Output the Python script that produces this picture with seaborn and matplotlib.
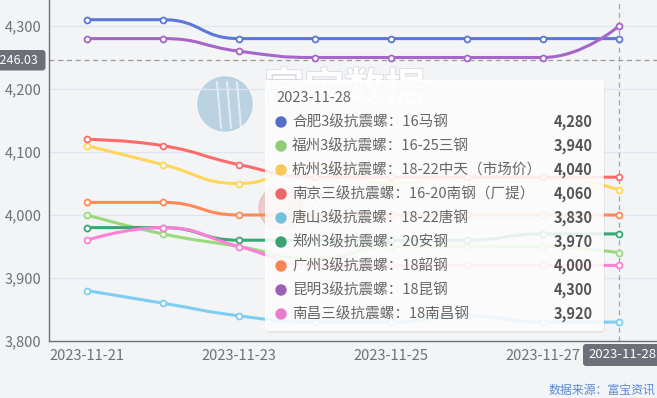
import numpy as np
import matplotlib
matplotlib.use('Agg')
import matplotlib.pyplot as plt
import seaborn as sns
from matplotlib.path import Path
from matplotlib.patches import PathPatch, FancyBboxPatch, Circle
import matplotlib.patheffects as pe

# data
dates = ['2023-11-21', '2023-11-22', '2023-11-23', '2023-11-24',
         '2023-11-25', '2023-11-26', '2023-11-27', '2023-11-28']
names = ['合肥3级抗震螺：16马钢', '福州3级抗震螺：16-25三钢',
         '杭州3级抗震螺：18-22中天（市场价）', '南京三级抗震螺：16-20南钢（厂提）',
         '唐山3级抗震螺：18-22唐钢', '郑州3级抗震螺：20安钢',
         '广州3级抗震螺：18韶钢', '昆明3级抗震螺：18昆钢', '南昌三级抗震螺：18南昌钢']
hefei = [4310, 4310, 4280, 4280, 4280, 4280, 4280, 4280]
fuzhou = [4000, 3970, 3950, 3930, 3950, 3950, 3950, 3940]
hangzhou = [4110, 4080, 4050, 4080, 4050, 4060, 4060, 4040]
nanjing = [4120, 4110, 4080, 4060, 4060, 4060, 4060, 4060]
tangshan = [3880, 3860, 3840, 3830, 3830, 3840, 3830, 3830]
zhengzhou = [3980, 3980, 3960, 3960, 3960, 3960, 3970, 3970]
guangzhou = [4020, 4020, 4000, 4000, 4000, 4000, 4000, 4000]
kunming = [4280, 4280, 4260, 4250, 4250, 4250, 4250, 4300]
nanchang = [3960, 3980, 3950, 3920, 3920, 3920, 3920, 3920]
series = [hefei, fuzhou, hangzhou, nanjing, tangshan, zhengzhou, guangzhou, kunming, nanchang]
yticks = [3800, 3900, 4000, 4100, 4200, 4300]
pointer_y = 4246.03

colors = ['#5470c6', '#91cc75', '#fac858', '#ee6666', '#73c0de',
          '#3ba272', '#fc8452', '#9a60b4', '#ea7ccc']
line_colors = ['#5b78d8', '#9ad97c', '#ffd65a', '#ff6b6b', '#7ccff0',
               '#3aa774', '#ff8a55', '#a665c8', '#ff80d8']
bg = '#f3f4f6'
axis_col = '#6e7079'

W, H = 657, 398
px_x = 76.5           # pixels per category
px_y = 0.63           # pixels per unit


def smooth_path(xs, ys, smooth=0.5):
    # echarts style bezier smoothing, worked out in pixel space
    pts = [(x * px_x, y * px_y) for x, y in zip(xs, ys)]
    verts = [pts[0]]
    codes = [Path.MOVETO]
    cp0 = pts[0]
    n = len(pts)
    for i in range(1, n):
        x, y = pts[i]
        px, py = pts[i - 1]
        if i == n - 1:
            cp1 = (x, y)
            ncp = None
        else:
            nx, ny = pts[i + 1]
            vx, vy = nx - px, ny - py
            lp = np.hypot(x - px, y - py)
            ln = np.hypot(nx - x, ny - y)
            r = ln / (ln + lp)
            ncx = np.clip(x + vx * smooth * r, min(nx, x), max(nx, x))
            ncy = np.clip(y + vy * smooth * r, min(ny, y), max(ny, y))
            vx, vy = ncx - x, ncy - y
            c1x = np.clip(x - vx * lp / ln, min(px, x), max(px, x))
            c1y = np.clip(y - vy * lp / ln, min(py, y), max(py, y))
            vx, vy = x - c1x, y - c1y
            ncp = (x + vx * ln / lp, y + vy * ln / lp)
            cp1 = (c1x, c1y)
        verts += [cp0, cp1, (x, y)]
        codes += [Path.CURVE4] * 3
        cp0 = ncp
    verts = [(vx_ / px_x, vy_ / px_y) for vx_, vy_ in verts]
    return Path(verts, codes)


sns.set_theme(style='white')
plt.rcParams['font.family'] = ['Noto Sans CJK SC', 'DejaVu Sans']

fig = plt.figure(figsize=(W / 100, H / 100), dpi=100, facecolor=bg)

# watermark layer (under the plot)
wm = fig.add_axes([0, 0, 1, 1], zorder=0)
wm.set_xlim(0, W)
wm.set_ylim(H, 0)
wm.axis('off')
wm.patch.set_alpha(0)
wm.add_patch(Circle((225, 104), 27, color='#b4cfe0', alpha=0.9))
for dx in (-8, 2, 12):
    wm.plot([225 + dx, 225 + dx + 4], [82, 128], color='white', lw=1.5, alpha=0.6)
wm.text(264, 90, '富宝数据', fontsize=29, fontweight='bold', color='white',
        va='center', ha='left',
        path_effects=[pe.withStroke(linewidth=1.2, foreground='#d6d9df')])
wm.add_patch(Circle((281, 208), 22, color='#e3b3ad', alpha=0.6))
wm.text(325, 192, '富宝资讯', fontsize=16, color='#e8aaa2', alpha=0.6,
        rotation=40, ha='center', va='center')

# main plot
ax = fig.add_axes([49 / W, 1 - 341 / H, (W - 49) / W, 341 / H], zorder=1)
ax.set_facecolor('none')
x = np.arange(len(dates))
for vals, lc in zip(series, line_colors):
    ax.add_patch(PathPatch(smooth_path(x, vals), fill=False, edgecolor=lc,
                           lw=2.2, capstyle='round', joinstyle='round', zorder=3))
    sns.scatterplot(x=x, y=vals, ax=ax, color='white', edgecolor=lc,
                    linewidth=1.3, s=18, zorder=4, legend=False)

ax.set_xlim(-0.5, -0.5 + (W - 49) / px_x)
ax.set_ylim(3800, 3800 + 341 / px_y)
ax.set_yticks(yticks)
ax.set_yticklabels([f'{v:,}' for v in yticks])
ax.set_xticks(x[::2])
ax.set_xticklabels(dates[::2])
ax.set_xticks(np.arange(-0.5, len(dates), 2), minor=True)
ax.tick_params(axis='x', which='major', length=0, pad=6, labelsize=10.5, colors=axis_col)
ax.tick_params(axis='x', which='minor', length=4, width=1, color=axis_col, direction='out')
ax.tick_params(axis='y', length=0, pad=5.5, labelsize=10.5, colors=axis_col)
ax.set_xlabel('')
ax.set_ylabel('')
for t in yticks[1:]:
    ax.axhline(t, color='#e0e6f1', lw=1, zorder=1)
for s in ['top', 'right']:
    ax.spines[s].set_visible(False)
for s in ['left', 'bottom']:
    ax.spines[s].set_color(axis_col)
    ax.spines[s].set_linewidth(1)

# crosshair
ax.axhline(pointer_y, color='#9a9a9a', lw=0.9, ls=(0, (4, 3)), zorder=2)
ax.axvline(7, color='#a0a3ad', lw=0.9, ls=(0, (4, 3)), zorder=2)

# overlay: pointer labels, tooltip, source
ov = fig.add_axes([0, 0, 1, 1], zorder=5)
ov.set_xlim(0, W)
ov.set_ylim(H, 0)
ov.axis('off')
ov.patch.set_alpha(0)

ov.add_patch(FancyBboxPatch((-10, 50), 55.5, 20.5, boxstyle='round,pad=0,rounding_size=3',
                            fc=axis_col, ec='none'))
ov.text(39, 60.5, f'{pointer_y:,.2f}', color='white', fontsize=9, ha='right', va='center')
ov.add_patch(FancyBboxPatch((583, 344), 90, 22, boxstyle='round,pad=0,rounding_size=3',
                            fc=axis_col, ec='none'))
ov.text(622.5, 355, dates[-1], color='white', fontsize=9.5, ha='center', va='center')

# tooltip
ov.add_patch(FancyBboxPatch((266, 82), 339, 251, boxstyle='round,pad=0,rounding_size=5',
                            fc='#000000', ec='none', alpha=0.06))
ov.add_patch(FancyBboxPatch((265, 80), 339, 251, boxstyle='round,pad=0,rounding_size=4',
                            fc='white', ec='none', alpha=0.88))
ov.text(276, 98, dates[-1], color='#666666', fontsize=10.5, ha='left', va='center')
for i, (nm, vals, c) in enumerate(zip(names, series, colors)):
    yy = 122 + 24 * i
    ov.add_patch(Circle((281, yy), 5, color=c))
    ov.text(292, yy, nm, color='#666666', fontsize=10.5, ha='left', va='center')
    ov.text(593, yy, f'{vals[-1]:,}', color='#555555', fontsize=10.5,
            fontweight='bold', ha='right', va='center')

ov.text(655, 390, '数据来源：富宝资讯', color='#5a8ad2', fontsize=8.6,
        ha='right', va='center')

fig.savefig('out.png', dpi=100, facecolor=bg)
